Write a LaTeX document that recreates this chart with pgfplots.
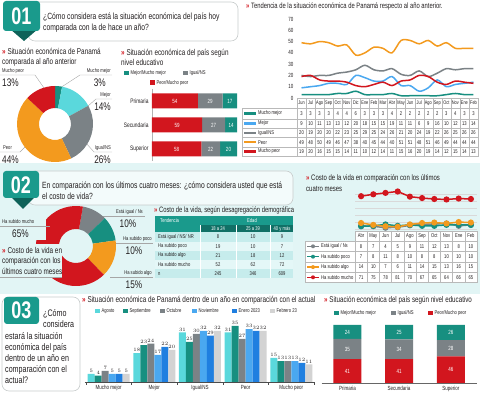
\documentclass[border=0pt]{standalone}
\usepackage{fontspec}
\setmainfont{Liberation Sans}[FakeStretch=0.75]
\usepackage{pgfplots}
\usepackage{pgfplotstable}
\pgfplotsset{compat=1.18}
\definecolor{cteal}{HTML}{178F80}
\definecolor{ccyan}{HTML}{5AD8DC}
\definecolor{cgray}{HTML}{7B8286}
\definecolor{corange}{HTML}{F39A1E}
\definecolor{cred}{HTML}{D2161E}
\definecolor{cblue}{HTML}{4AA8F0}
\definecolor{cblue2}{HTML}{1F7FE0}
\definecolor{clgray}{HTML}{D3D3D3}
\definecolor{cbg}{HTML}{E2F5F5}
\definecolor{chead}{HTML}{1A9A8C}
\definecolor{cheaddark}{HTML}{0E6259}
\definecolor{ctext}{HTML}{231F20}
\definecolor{cborder}{HTML}{C8CCCC}
\definecolor{crowA}{HTML}{C6ECEC}
\definecolor{crowB}{HTML}{E4F7F7}
\newcommand{\fs}[1]{\fontsize{#1}{#1}\selectfont}
\newcommand{\mk}{{\color{cred}\bfseries »}\ }

\pgfplotstableread{
x mm me ig pe mp
1 3 9 20 49 19
2 3 10 19 48 20
3 3 11 20 50 16
4 3 13 20 49 15
5 4 13 22 46 15
6 4 12 23 47 14
7 6 20 25 38 11
8 3 18 29 40 10
9 3 15 25 45 12
10 3 15 24 44 14
11 4 19 26 40 11
12 2 11 21 51 15
13 2 11 20 51 16
14 2 6 24 48 20
15 2 9 19 51 19
16 2 16 22 46 14
17 3 10 26 49 12
18 4 12 25 44 15
19 3 13 26 44 14
20 3 14 26 44 13
}\trendtab

\pgfplotstableread{
x ig po al mu
1 8 7 14 71
2 7 8 10 75
3 4 11 7 78
4 5 8 6 81
5 9 10 11 70
6 11 8 14 67
7 12 8 15 65
8 13 10 13 64
9 8 10 16 66
10 10 10 15 65
}\costtab

\begin{document}
\begin{tikzpicture}
\path[use as bounding box] (0pt,0pt) rectangle (480pt,393pt);
\begin{scope}[shift={(0pt,393pt)},x=1pt,y=-1pt, every node/.style={inner sep=0pt, text=ctext}]
% ---------- backgrounds
\fill[cbg] (0,163) rectangle (480,294);
% ---------- section 01 header
\draw[cborder, fill=white, rounded corners=7pt, line width=0.6pt] (28,2) rectangle (238,41);
\fill[cheaddark] (10,29) -- (38,29) -- (24,41) -- cycle;
\fill[chead, rounded corners=3pt] (3,1) rectangle (40,31);
\node[font=\fs{24}\bfseries, text=white] at (21.5,16.5) {01};
\node[anchor=west, align=left, font=\fontsize{9}{11}\selectfont] at (43,22.5) {¿Cómo considera está la situación económica del país hoy\\comparada con la de hace un año?};
\node[anchor=west, align=left, font=\fontsize{8.5}{9.5}\selectfont] at (2,57.5) {\mk Situación económica de Panamá\\comparada al año anterior};
\node[anchor=west, align=left, font=\fontsize{8.5}{9.5}\selectfont] at (121,57.5) {\mk Situación económica del país según\\nivel educativo};
% donut 1 labels
\draw[gray!70, line width=0.4pt] (0,75) -- (35,75) -- (44,88);
\node[anchor=west, font=\fs{5.5}] at (2,71) {Mucho peor};
\node[anchor=west, font=\fs{11}] at (2,83) {13\%};
\draw[gray!70, line width=0.4pt] (112,75) -- (80,75) -- (60,88);
\node[anchor=east, font=\fs{5.5}] at (111,71) {Mucho mejor};
\node[anchor=east, font=\fs{11}] at (106,83) {3\%};
\draw[gray!70, line width=0.4pt] (112,99) -- (96,99) -- (88,106);
\node[anchor=east, font=\fs{5.5}] at (111,95) {Mejor};
\node[anchor=east, font=\fs{11}] at (111,107) {14\%};
\draw[gray!70, line width=0.4pt] (112,152) -- (94,152) -- (86,143);
\node[anchor=east, font=\fs{5.5}] at (111,148) {Igual/NS};
\node[anchor=east, font=\fs{11}] at (111,160) {26\%};
\draw[gray!70, line width=0.4pt] (0,152) -- (20,152) -- (26,146);
\node[anchor=west, font=\fs{5.5}] at (3,148) {Peor};
\node[anchor=west, font=\fs{11}] at (2,160) {44\%};
% legend for education bars
\fill[cteal] (124,71) rectangle (128.5,75.5);
\node[anchor=west, font=\fs{5.5}] at (130.5,73.3) {Mejor/Mucho mejor};
\fill[cgray] (183,71) rectangle (187.5,75.5);
\node[anchor=west, font=\fs{5.5}] at (189.5,73.3) {Igual/NS};
\fill[cred] (150,80.5) rectangle (154.5,85);
\node[anchor=west, font=\fs{5.5}] at (156.5,82.8) {Peor/Mucho peor};
% trend title
\node[anchor=west, font=\fs{7.8}] at (246,6) {\mk Tendencia de la situación económica de Panamá respecto al año anterior.};
% trend table
\fill[white] (242,98) rectangle (478,156);
\draw[gray!55, line width=0.3pt] (297,98) rectangle (478,156);
\draw[gray!55, line width=0.3pt] (242,108) rectangle (297,156);
\foreach \yy in {108,118.7,128.2,137.6,146.8} \draw[gray!55, line width=0.3pt] (242,\yy) -- (478,\yy);
\foreach \i in {1,...,19} \draw[gray!55, line width=0.3pt] ({297+9.05*\i},98) -- ({297+9.05*\i},156);
\foreach \m [count=\i] in {Jun,Jul,Ago,Sep,Oct,Nov,Dic,Ene,Feb,Mar,Abr,May,Jun,Jul,Ago,Sep,Oct,Nov,Ene,Feb}
  \node[font=\fs{5.2}] at ({297+9.05*(\i-0.5)},103) {\m};
\foreach \lab/\col/\yy in {{Mucho mejor}/cteal/113.4,{Mejor}/cblue/123.5,{Igual/NS}/cgray/132.9,{Peor}/corange/142.2,{Mucho peor}/cred/151.4}{
  \draw[\col, line width=2.5pt] (244,\yy) -- (256,\yy);
  \node[anchor=west, font=\fs{5.5}] at (258,\yy) {\lab};}
\foreach \vals/\yy in {{3,3,3,3,4,4,6,3,3,3,4,2,2,2,2,2,3,4,3,3}/113.4,
  {9,10,11,13,13,12,20,18,15,15,19,11,11,6,9,16,10,12,13,14}/123.5,
  {20,19,20,20,22,23,25,29,25,24,26,21,20,24,19,22,26,25,26,26}/132.9,
  {49,48,50,49,46,47,38,40,45,44,40,51,51,48,51,46,49,44,44,44}/142.2,
  {19,20,16,15,15,14,11,10,12,14,11,15,16,20,19,14,12,15,14,13}/151.4}
  \foreach \v [count=\i] in \vals
    \node[font=\fs{5.5}] at ({297+9.05*(\i-0.5)},\yy) {\v};
% ---------- section 02
\draw[cborder, fill=cbg!40!white, rounded corners=7pt, line width=0.6pt] (28,171) rectangle (293,205);
\fill[cheaddark] (10,196) -- (36,196) -- (23,209) -- cycle;
\fill[chead, rounded corners=3pt] (3,171) rectangle (39,198);
\node[font=\fs{24}\bfseries, text=white] at (21,185) {02};
\node[anchor=west, align=left, font=\fontsize{9}{11}\selectfont] at (42,190.5) {En comparación con los últimos cuatro meses: ¿cómo considera usted que está\\el costo de vida?};
% donut 2 labels (right side)
\draw[gray!70, line width=0.4pt] (100,216) -- (145,216);
\node[anchor=east, font=\fs{5.5}] at (143,212) {Está igual / Ns};
\node[font=\fs{11}] at (128,224) {10\%};
\draw[gray!70, line width=0.4pt] (114,243) -- (153,243);
\node[anchor=east, font=\fs{5.5}] at (152,239) {Ha subido poco};
\node[font=\fs{11}] at (134,251) {10\%};
\draw[gray!70, line width=0.4pt] (110,277) -- (153,277);
\node[anchor=east, font=\fs{5.5}] at (152,273) {Ha subido algo};
\node[font=\fs{11}] at (134,284.5) {15\%};
% demographic table
\node[anchor=west, font=\fs{7.8}] at (154,210) {\mk Costo de la vida, según desagregación demográfica};
\fill[chead] (155,216) rectangle (293,232.5);
\fill[cheaddark!75!chead] (200,225.5) rectangle (293,232.5);
\node[anchor=west, font=\fs{5.5}, text=white] at (160,221) {Tendencia};
\node[font=\fs{5.5}, text=white] at (252,220.5) {Edad};
\node[font=\fs{5.5}, text=white] at (218,229) {18 a 24};
\node[font=\fs{5.5}, text=white] at (253,229) {25 a 39};
\node[font=\fs{5.5}, text=white] at (282,229) {40 y más};
\foreach \lab/\a/\b/\c/\yy/\f in {{Está igual / NS/ NR}/8/10/9/237.1/crowA,{Ha subido poco}/19/10/7/246.3/crowB,{Ha subido algo}/21/18/12/255.5/crowA,{Ha subido mucho}/52/62/72/264.7/crowB,{n}/245/346/609/273.9/crowA}{
  \fill[\f] (155,\yy-4.6) rectangle (293,\yy+4.6);
  \node[anchor=west, font=\fs{5.5}] at (158,\yy) {\lab};
  \node[font=\fs{5.5}] at (218,\yy) {\a};
  \node[font=\fs{5.5}] at (253,\yy) {\b};
  \node[font=\fs{5.5}] at (282,\yy) {\c};}
\foreach \xx in {200,236,270} \draw[white, line width=0.5pt] (\xx,225.5) -- (\xx,278.5);
% cost line chart title and table
\node[anchor=west, align=left, font=\fontsize{8}{11}\selectfont] at (306,183.5) {\mk Costo de la vida en comparación con los últimos\\cuatro meses};
\fill[white] (305,241) rectangle (477,282.5);
\fill[white] (355,231) rectangle (477,241);
\draw[gray!55, line width=0.3pt] (355,231) rectangle (477,282.5);
\draw[gray!55, line width=0.3pt] (305,241) rectangle (355,282.5);
\foreach \yy in {241,251.5,262,272.2} \draw[gray!55, line width=0.3pt] (305,\yy) -- (477,\yy);
\foreach \i in {1,...,9} \draw[gray!55, line width=0.3pt] ({355+12.2*\i},231) -- ({355+12.2*\i},282.5);
\foreach \m [count=\i] in {Abr,May,Jun,Jul,Ago,Sep,Oct,Nov,Ene,Feb}
  \node[font=\fs{5.5}] at ({355+12.2*(\i-0.5)},236) {\m};
\foreach \lab/\col/\yy in {{Está igual / Ns}/cgray/246.3,{Ha subido poco}/cteal/256.7,{Ha subido algo}/corange/267.1,{Ha subido mucho}/cred/277.3}{
  \draw[\col, line width=1.5pt] (307,\yy) -- (319,\yy);
  \fill[\col] (313,\yy) circle (2pt);
  \node[anchor=west, font=\fs{5.5}] at (321,\yy) {\lab};}
\foreach \vals/\yy in {{8,7,4,5,9,11,12,13,8,10}/246.3,{7,8,11,8,10,8,8,10,10,10}/256.7,{14,10,7,6,11,14,15,13,16,15}/267.1,{71,75,78,81,70,67,65,64,66,65}/277.3}
  \foreach \v [count=\i] in \vals
    \node[font=\fs{5.5}] at ({355+12.2*(\i-0.5)},\yy) {\v};
% ---------- section 03
\draw[cborder, fill=white, rounded corners=7pt, line width=0.6pt] (2,297) rectangle (80,391);
\fill[chead, rounded corners=3pt] (4,297) rectangle (39,324);
\node[font=\fs{24}\bfseries, text=white] at (21.5,310.5) {03};
\node[anchor=west, align=left, font=\fontsize{9.5}{11.2}\selectfont] at (43,318.6) {¿Cómo\\considera};
\node[anchor=west, align=left, font=\fontsize{9.5}{11.2}\selectfont] at (5,358) {estará la situación\\económica del país\\dentro de un año  en\\comparación con el\\actual?};
\node[anchor=west, font=\fs{8.5}] at (82,300.5) {\mk Situación económica de Panamá dentro de un año en comparación con el actual};
\foreach \col/\lab/\xx in {ccyan/Agosto/95,cteal/Septiembre/123,cgray/Octubre/160,cblue/Noviembre/192,cblue2/Enero 2023/232,clgray/Febrero 23/270}{
  \fill[\col] (\xx,308.8) rectangle (\xx+4.5,313.3);
  \node[anchor=west, font=\fs{5.5}] at (\xx+6.5,311) {\lab};}
\node[anchor=west, font=\fs{8.3}] at (324,300.5) {\mk Situación económica del país según nivel educativo};
\foreach \col/\lab/\xx in {cteal/Mejor\slash Mucho mejor/334,cgray/Igual\slash NS/391,cred/Peor\slash Mucho peor/428}{
  \fill[\col] (\xx,310.8) rectangle (\xx+4.5,315.3);
  \node[anchor=west, font=\fs{5.5}] at (\xx+6.5,313) {\lab};}
\end{scope}

% ---------- donuts
\begin{scope}[shift={(55pt,269pt)}]
\gdef\ang{90}
\foreach \v/\c in {3/cteal,14/ccyan,26/cgray,44/corange,13/cred}{
  \pgfmathsetmacro\angb{\ang-3.6*\v}
  \fill[\c] (\ang:38pt) arc[start angle=\ang,end angle=\angb,radius=38pt] -- (\angb:16pt) arc[start angle=\angb,end angle=\ang,radius=16pt] -- cycle;
  \global\let\ang\angb}
\end{scope}
\begin{scope}[shift={(76pt,147pt)}]
\gdef\ang{80}
\foreach \v/\c in {10/cgray,10/cteal,15/corange,65/cred}{
  \pgfmathsetmacro\angb{\ang-3.6*\v}
  \fill[\c] (\ang:40pt) arc[start angle=\ang,end angle=\angb,radius=40pt] -- (\angb:17pt) arc[start angle=\angb,end angle=\ang,radius=17pt] -- cycle;
  \global\let\ang\angb}
\end{scope}
% labels laid over the left of donut 2
\begin{scope}[shift={(0pt,393pt)},x=1pt,y=-1pt, every node/.style={inner sep=0pt, text=ctext}]
\fill[cbg] (0,217) rectangle (46,240);
\draw[gray!70, line width=0.4pt] (0,226) -- (50,226);
\node[anchor=west, font=\fs{5.5}] at (2,222) {Ha subido mucho};
\node[anchor=west, font=\fs{11}] at (12,234) {65\%};
\fill[cbg] (0,244) rectangle (62,277);
\node[anchor=west, align=left, font=\fontsize{8.5}{10.5}\selectfont] at (2,260.5) {\mk Costo de la vida en\\comparación con los\\últimos cuatro meses};
\draw[gray!70, line width=0.4pt] (0,277) -- (62,277);
\end{scope}

% ---------- A: education stacked bars (section 1)
\begin{axis}[at={(152pt,232pt)}, anchor=south west, scale only axis, width=85pt, height=72pt,
  xbar stacked, bar width=15pt, xmin=0, xmax=100, ymin=-0.5, ymax=2.5, y dir=reverse,
  ytick={0,1,2}, yticklabels={Primaria,Secundaria,Superior},
  yticklabel style={font=\fs{6.5}, text=ctext},
  hide x axis, axis y line*=left, axis line style={draw=gray!60, line width=0.8pt, -}, major tick length=0pt]
\addplot[fill=cred, draw=none] coordinates {(54,0) (59,1) (58,2)};
\addplot[fill=cgray, draw=none] coordinates {(29,0) (27,1) (22,2)};
\addplot[fill=cteal, draw=none] coordinates {(17,0) (14,1) (20,2)};
\end{axis}
\begin{axis}[at={(152pt,232pt)}, anchor=south west, scale only axis, width=85pt, height=72pt,
  xmin=0, xmax=100, ymin=-0.5, ymax=2.5, y dir=reverse, hide axis, clip=false]
\addplot[draw=none, mark=none, nodes near coords, point meta=explicit symbolic,
  every node near coord/.append style={font=\fs{6}, text=white, anchor=center}]
  coordinates {(27,0) [54] (68.5,0) [29] (91.5,0) [17] (29.5,1) [59] (72.5,1) [27] (93,1) [14] (29,2) [58] (69,2) [22] (90,2) [20]};
\end{axis}

% ---------- B: trend lines
\begin{axis}[at={(297pt,295pt)}, anchor=south west, scale only axis, width=181pt, height=79pt,
  xmin=0.5, xmax=20.5, ymin=0, ymax=70, ytick={0,10,...,70}, xtick=\empty,
  axis line style={draw=none}, major tick length=0pt,
  yticklabel style={font=\fs{6}, text=ctext}, /pgf/number format/assume math mode=true, clip=false]
\addplot[cgray, line width=1.5pt, smooth] table[x=x,y=ig] {\trendtab};
\addplot[corange, line width=1.5pt, smooth] table[x=x,y=pe] {\trendtab};
\addplot[cblue, line width=1.5pt, smooth] table[x=x,y=me] {\trendtab};
\addplot[cteal, line width=1.5pt, smooth] table[x=x,y=mm] {\trendtab};
\addplot[cred, line width=1.5pt, smooth] table[x=x,y=mp] {\trendtab};
\end{axis}

% ---------- C: cost of living lines
\begin{axis}[at={(355pt,163.4pt)}, anchor=south west, scale only axis, width=122pt, height=40pt,
  xmin=0.5, xmax=10.5, ymin=0, ymax=85, ytick={0,15,...,75}, yticklabels={}, xtick=\empty,
  ymajorgrids, grid style={gray!30, line width=0.4pt}, axis line style={draw=none}, major tick length=0pt, clip=false]
\addplot[cgray, line width=1.5pt, mark=*, mark size=2.3pt] table[x=x,y=ig] {\costtab};
\addplot[cteal, line width=1.5pt, mark=*, mark size=2.3pt] table[x=x,y=po] {\costtab};
\addplot[corange, line width=1.5pt, mark=*, mark size=2.3pt] table[x=x,y=al] {\costtab};
\addplot[cred, line width=1.5pt, mark=*, mark size=2.3pt] table[x=x,y=mu] {\costtab};
\end{axis}

% ---------- D: expectations grouped bars
\begin{axis}[at={(85pt,11pt)}, anchor=south west, scale only axis, width=230pt, height=64pt,
  ybar=0pt, bar width=7pt, xmin=-0.52, xmax=4.52, ymin=0, ymax=40,
  xtick={0,...,4}, xticklabels={Mucho mejor,Mejor,Igual/NS,Peor,Mucho peor},
  xticklabel style={font=\fs{6}, text=ctext},
  minor xtick={-0.5,0.5,...,4.5}, major tick length=0pt, minor tick length=3pt, tick align=outside,
  hide y axis, axis x line*=bottom, axis line style={draw=black!70, line width=0.5pt, -}, tick style={black!70},
  nodes near coords, every node near coord/.append style={font=\fs{5.5}, text=ctext, inner sep=1pt},
  clip=false]
\addplot[fill=ccyan, draw=none] coordinates {(0,5) (1,18) (2,31) (3,31) (4,15)};
\addplot[fill=cteal, draw=none] coordinates {(0,4) (1,23) (2,25) (3,35) (4,13)};
\addplot[fill=cgray, draw=none] coordinates {(0,7) (1,24) (2,30) (3,27) (4,13)};
\addplot[fill=cblue, draw=none] coordinates {(0,5) (1,17) (2,32) (3,33) (4,13)};
\addplot[fill=cblue2, draw=none] coordinates {(0,5) (1,22) (2,29) (3,32) (4,12)};
\addplot[fill=clgray, draw=none] coordinates {(0,5) (1,20) (2,32) (3,32) (4,11)};
\end{axis}

% ---------- E: education stacked columns (section 3)
\begin{axis}[at={(321.6pt,10pt)}, anchor=south west, scale only axis, width=155pt, height=58pt,
  ybar stacked, bar width=28pt, xmin=-0.5, xmax=2.5, ymin=0, ymax=100,
  xtick={0,1,2}, xticklabels={Primaria,Secundaria,Superior}, xticklabel style={font=\fs{6}, text=ctext},
  hide y axis, axis x line*=bottom, axis line style={draw=black!60, line width=0.5pt, -}, major tick length=0pt, clip=false]
\addplot[fill=cred, draw=none] coordinates {(0,41) (1,41) (2,46)};
\addplot[fill=cgray, draw=none] coordinates {(0,35) (1,34) (2,28)};
\addplot[fill=cteal, draw=none] coordinates {(0,24) (1,25) (2,26)};
\end{axis}
\begin{axis}[at={(321.6pt,10pt)}, anchor=south west, scale only axis, width=155pt, height=58pt,
  xmin=-0.5, xmax=2.5, ymin=0, ymax=100, hide axis, clip=false]
\addplot[draw=none, mark=none, nodes near coords, point meta=explicit symbolic,
  every node near coord/.append style={font=\fs{6}, text=white, anchor=center}]
  coordinates {(0,20.5) [41] (0,58.5) [35] (0,88) [24] (1,20.5) [41] (1,58) [34] (1,87.5) [25] (2,23) [46] (2,60) [28] (2,87) [26]};
\end{axis}
\end{tikzpicture}
\end{document}
